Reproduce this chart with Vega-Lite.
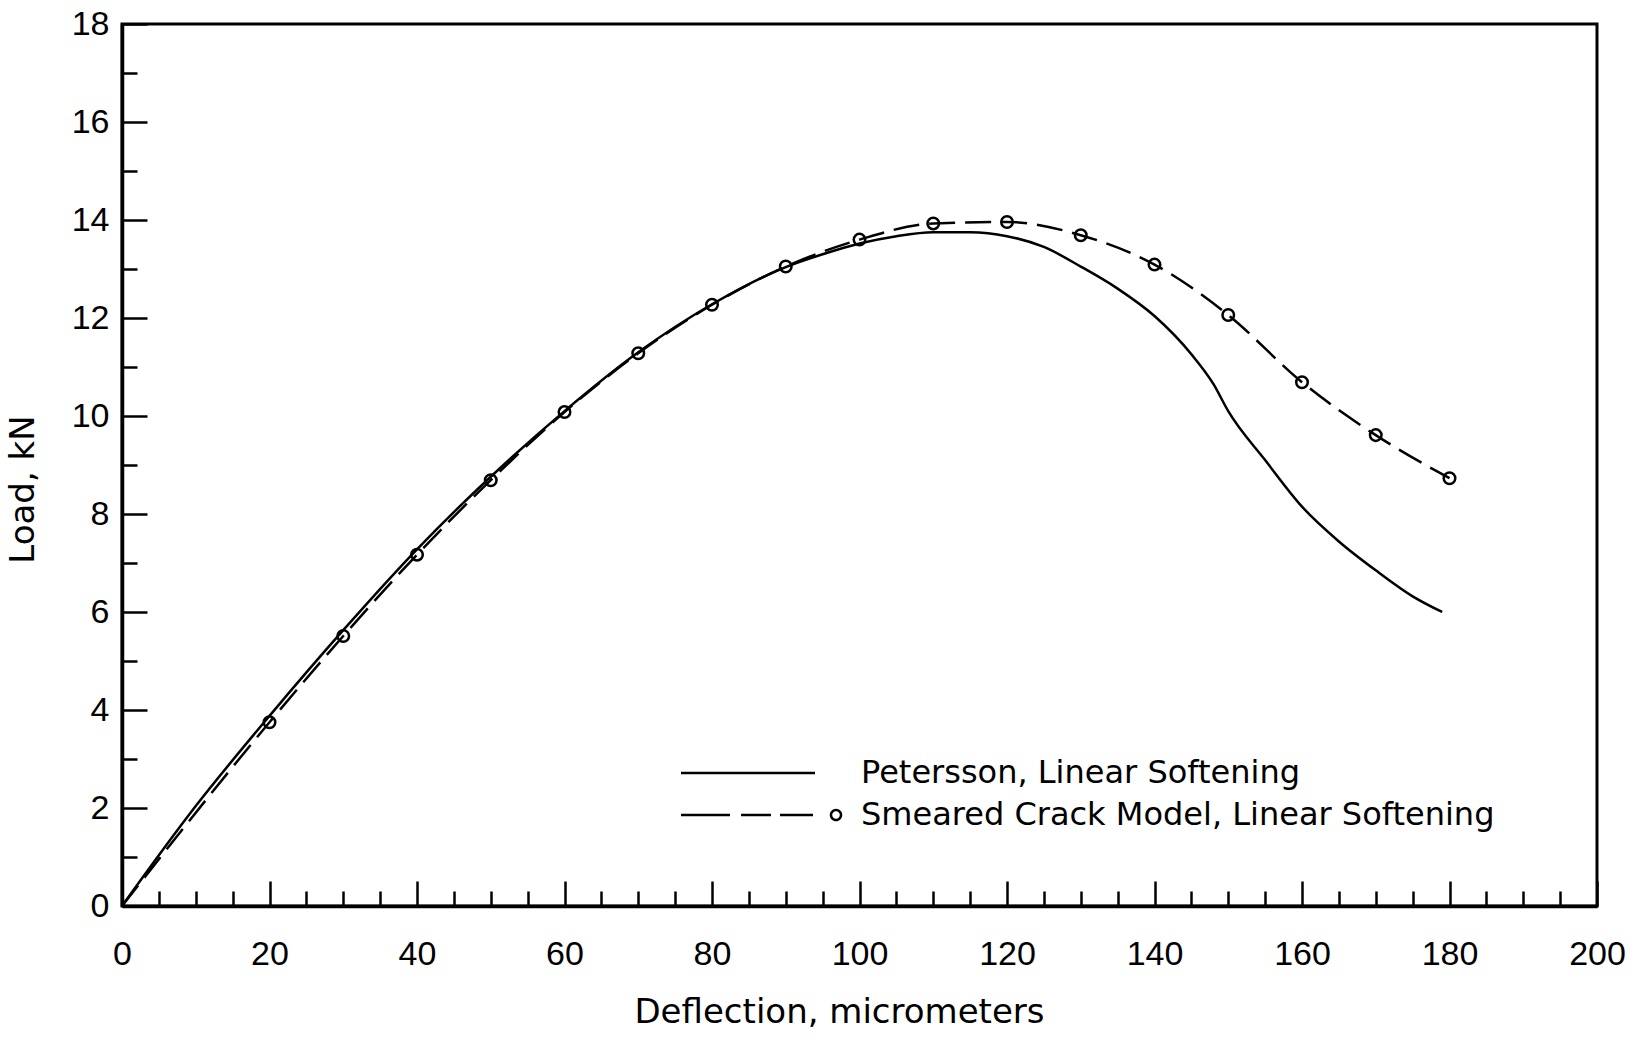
{
  "$schema": "https://vega.github.io/schema/vega-lite/v6.json",
  "width": 1475,
  "height": 882,
  "autosize": "none",
  "padding": {"left": 122, "top": 24, "right": 44, "bottom": 136},
  "background": "white",
  "config": {
    "view": {"stroke": "black", "strokeWidth": 3},
    "axis": {
      "domainColor": "black",
      "domainWidth": 3.5,
      "tickColor": "black",
      "tickWidth": 2.5,
      "labelColor": "black",
      "labelFont": "Liberation Sans",
      "labelFontSize": 34,
      "labelOverlap": false,
      "labelFlush": false,
      "labelBound": false,
      "grid": false,
      "titleColor": "black",
      "titleFont": "DejaVu Sans",
      "titleFontSize": 34,
      "titleFontWeight": "normal"
    }
  },
  "data": {
    "values": [
      {"series": "Petersson, Linear Softening", "x": 0, "y": 0},
      {"series": "Petersson, Linear Softening", "x": 10, "y": 2.04},
      {"series": "Petersson, Linear Softening", "x": 20, "y": 3.88},
      {"series": "Petersson, Linear Softening", "x": 30, "y": 5.63},
      {"series": "Petersson, Linear Softening", "x": 40, "y": 7.28},
      {"series": "Petersson, Linear Softening", "x": 50, "y": 8.76},
      {"series": "Petersson, Linear Softening", "x": 60, "y": 10.1},
      {"series": "Petersson, Linear Softening", "x": 70, "y": 11.3},
      {"series": "Petersson, Linear Softening", "x": 80, "y": 12.28},
      {"series": "Petersson, Linear Softening", "x": 90, "y": 13.04},
      {"series": "Petersson, Linear Softening", "x": 95, "y": 13.3},
      {"series": "Petersson, Linear Softening", "x": 100, "y": 13.52},
      {"series": "Petersson, Linear Softening", "x": 105, "y": 13.67},
      {"series": "Petersson, Linear Softening", "x": 110, "y": 13.75},
      {"series": "Petersson, Linear Softening", "x": 115, "y": 13.75},
      {"series": "Petersson, Linear Softening", "x": 120, "y": 13.67},
      {"series": "Petersson, Linear Softening", "x": 125, "y": 13.45},
      {"series": "Petersson, Linear Softening", "x": 130, "y": 13.05},
      {"series": "Petersson, Linear Softening", "x": 135, "y": 12.6},
      {"series": "Petersson, Linear Softening", "x": 140, "y": 12.04},
      {"series": "Petersson, Linear Softening", "x": 145, "y": 11.26},
      {"series": "Petersson, Linear Softening", "x": 148, "y": 10.65},
      {"series": "Petersson, Linear Softening", "x": 150, "y": 10.1},
      {"series": "Petersson, Linear Softening", "x": 155, "y": 9.1},
      {"series": "Petersson, Linear Softening", "x": 160, "y": 8.15},
      {"series": "Petersson, Linear Softening", "x": 165, "y": 7.44},
      {"series": "Petersson, Linear Softening", "x": 170, "y": 6.85},
      {"series": "Petersson, Linear Softening", "x": 175, "y": 6.32},
      {"series": "Petersson, Linear Softening", "x": 179, "y": 6.0},
      {"series": "Smeared Crack Model, Linear Softening", "x": 0, "y": 0},
      {"series": "Smeared Crack Model, Linear Softening", "x": 20, "y": 3.75},
      {"series": "Smeared Crack Model, Linear Softening", "x": 30, "y": 5.51},
      {"series": "Smeared Crack Model, Linear Softening", "x": 40, "y": 7.17},
      {"series": "Smeared Crack Model, Linear Softening", "x": 50, "y": 8.69},
      {"series": "Smeared Crack Model, Linear Softening", "x": 60, "y": 10.08},
      {"series": "Smeared Crack Model, Linear Softening", "x": 70, "y": 11.28},
      {"series": "Smeared Crack Model, Linear Softening", "x": 80, "y": 12.27},
      {"series": "Smeared Crack Model, Linear Softening", "x": 90, "y": 13.05},
      {"series": "Smeared Crack Model, Linear Softening", "x": 100, "y": 13.6},
      {"series": "Smeared Crack Model, Linear Softening", "x": 110, "y": 13.93},
      {"series": "Smeared Crack Model, Linear Softening", "x": 120, "y": 13.96},
      {"series": "Smeared Crack Model, Linear Softening", "x": 130, "y": 13.69},
      {"series": "Smeared Crack Model, Linear Softening", "x": 140, "y": 13.09},
      {"series": "Smeared Crack Model, Linear Softening", "x": 150, "y": 12.06},
      {"series": "Smeared Crack Model, Linear Softening", "x": 160, "y": 10.69},
      {"series": "Smeared Crack Model, Linear Softening", "x": 170, "y": 9.61},
      {"series": "Smeared Crack Model, Linear Softening", "x": 180, "y": 8.73}
    ]
  },
  "layer": [
    {
      "transform": [{"filter": "datum.series === 'Petersson, Linear Softening'"}],
      "mark": {"type": "line", "interpolate": "monotone", "strokeWidth": 2.5},
      "encoding": {
        "x": {
          "field": "x",
          "type": "quantitative",
          "title": "Deflection, micrometers",
          "scale": {"domain": [0, 200], "nice": false, "zero": false},
          "axis": {
            "values": [0, 5, 10, 15, 20, 25, 30, 35, 40, 45, 50, 55, 60, 65, 70, 75, 80, 85, 90, 95, 100, 105, 110, 115, 120, 125, 130, 135, 140, 145, 150, 155, 160, 165, 170, 175, 180, 185, 190, 195, 200],
            "tickCount": 100,
            "format": "d",
            "labelExpr": "datum.value % 20 === 0 ? datum.label : ''",
            "tickSize": {"condition": {"test": "datum.value % 20 === 0", "value": -25}, "value": -15},
            "labelPadding": 56,
            "labelBaseline": "top",
            "titleX": 717,
            "titleY": 116,
            "titleAlign": "center",
            "titleBaseline": "alphabetic"
          }
        },
        "y": {
          "field": "y",
          "type": "quantitative",
          "title": "Load, kN",
          "scale": {"domain": [0, 18], "nice": false},
          "axis": {
            "values": [0, 1, 2, 3, 4, 5, 6, 7, 8, 9, 10, 11, 12, 13, 14, 15, 16, 17, 18],
            "tickCount": 100,
            "format": "d",
            "labelExpr": "datum.value % 2 === 0 ? datum.label : ''",
            "tickSize": {"condition": {"test": "datum.value % 2 === 0", "value": -25}, "value": -15},
            "labelPadding": 38,
            "labelBaseline": "middle",
            "titleAngle": 270,
            "titleX": -89,
            "titleY": 465,
            "titleAlign": "center",
            "titleBaseline": "alphabetic"
          }
        },
        "color": {
          "field": "series",
          "type": "nominal",
          "scale": {
            "domain": ["Petersson, Linear Softening", "Smeared Crack Model, Linear Softening"],
            "range": ["black", "black"]
          },
          "legend": {
            "orient": "none",
            "legendX": 553,
            "legendY": 733,
            "title": null,
            "padding": 0,
            "symbolSize": 400,
            "symbolStrokeWidth": 2.5,
            "symbolStrokeColor": "black",
            "symbolFillColor": "transparent",
            "symbolDash": [1, 0],
            "labelFont": "DejaVu Sans",
            "labelFontSize": 32,
            "labelColor": "black",
            "labelOffset": 154,
            "labelLimit": 0,
            "rowPadding": 10,
            "encode": {
              "symbols": {
                "update": {
                  "shape": {"signal": "datum.value === 'Petersson, Linear Softening' ? 'M-1,0L12.4,0' : 'M-1,0L3.9,0M5.0,0L8.0,0M8.9,0L12.2,0M15,0C15,0.276 14.776,0.5 14.5,0.5C14.224,0.5 14,0.276 14,0C14,-0.276 14.224,-0.5 14.5,-0.5C14.776,-0.5 15,-0.276 15,0Z'"},
                  "stroke": {"value": "black"},
                  "fill": {"value": "transparent"}
                }
              }
            }
          }
        }
      }
    },
    {
      "transform": [{"filter": "datum.series === 'Smeared Crack Model, Linear Softening'"}],
      "mark": {"type": "line", "interpolate": "monotone", "strokeWidth": 2.5, "strokeDash": [26, 10]},
      "encoding": {
        "x": {"field": "x", "type": "quantitative"},
        "y": {"field": "y", "type": "quantitative"},
        "color": {"field": "series", "type": "nominal"}
      }
    },
    {
      "transform": [
        {"filter": "datum.series === 'Smeared Crack Model, Linear Softening' && datum.x >= 20"}
      ],
      "mark": {"type": "point", "shape": "circle", "filled": false, "size": 133, "strokeWidth": 2.5, "color": "black", "opacity": 1},
      "encoding": {
        "x": {"field": "x", "type": "quantitative"},
        "y": {"field": "y", "type": "quantitative"}
      }
    }
  ]
}
